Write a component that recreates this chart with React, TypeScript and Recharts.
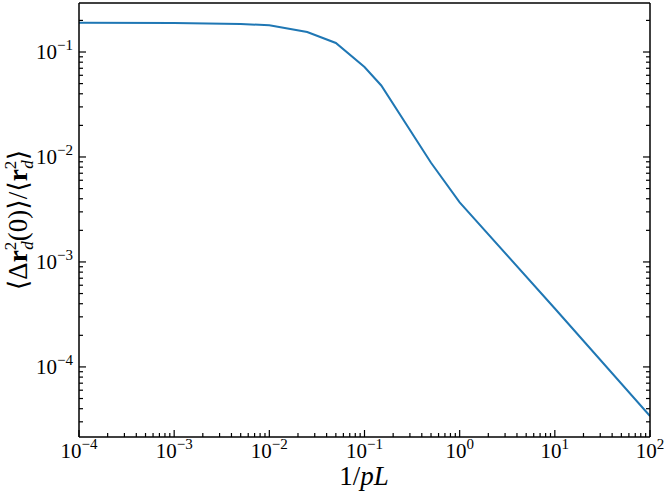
import { Line, LineChart, XAxis, YAxis } from "recharts";

// 1/pL values and the relative fluctuation
const invPL = [1e-4, 1e-3, 5e-3, 1e-2, 2.5e-2, 5e-2, 0.1, 0.15, 0.5, 1, 10, 100];
const fluct = [0.19, 0.189, 0.185, 0.18, 0.155, 0.122, 0.072, 0.048, 0.0088, 0.0037, 3.6e-4, 3.4e-5];

const xDomain = [1e-4, 1e2];
const yDomain = [2.15e-5, 0.293];

const xDecades = [-4, -3, -2, -1, 0, 1, 2];
const yDecades = [-5, -4, -3, -2, -1];
const minorSteps = [1, 2, 3, 4, 5, 6, 7, 8, 9];

const ticksIn = (decades: number[], dom: number[]) =>
  decades
    .flatMap((d) => minorSteps.map((k) => k * Math.pow(10, d)))
    .filter((v) => v >= dom[0] * 0.999 && v <= dom[1] * 1.001);

const xTicks = ticksIn(xDecades, xDomain);
const yTicks = ticksIn(yDecades, yDomain);

const data = invPL.map((x, i) => ({ x, y: fluct[i] }));

const FONT = "'Liberation Serif', 'DejaVu Serif', serif";
const AXIS = { stroke: "#000", strokeWidth: 1.5 };

const isMajor = (v: number) => {
  const l = Math.log10(v);
  return Math.abs(l - Math.round(l)) < 1e-6;
};
const expOf = (v: number) => {
  const e = Math.round(Math.log10(v));
  return e < 0 ? "\u2212" + Math.abs(e) : String(e);
};

const XTick = (props: any) => {
  const { x, y, payload, side } = props;
  const major = isMajor(payload.value);
  const len = major ? 7 : 4;
  const dir = side === "bottom" ? -1 : 1;
  return (
    <g>
      <line x1={x} y1={y} x2={x} y2={y + dir * len} stroke="#000" strokeWidth={1.2} />
      {side === "bottom" && major && (
        <text x={x} y={y + 21} textAnchor="middle" fontFamily={FONT} fontSize={21} fill="#000">
          10
          <tspan dy={-9} fontSize={15}>
            {expOf(payload.value)}
          </tspan>
        </text>
      )}
    </g>
  );
};

const YTick = (props: any) => {
  const { x, y, payload, side } = props;
  const major = isMajor(payload.value);
  const len = major ? 7 : 4;
  const dir = side === "left" ? 1 : -1;
  return (
    <g>
      <line x1={x} y1={y} x2={x + dir * len} y2={y} stroke="#000" strokeWidth={1.2} />
      {side === "left" && major && (
        <text x={x - 6} y={y + 7} textAnchor="end" fontFamily={FONT} fontSize={21} fill="#000">
          10
          <tspan dy={-9} fontSize={15}>
            {expOf(payload.value)}
          </tspan>
        </text>
      )}
    </g>
  );
};

export default function App() {
  return (
    <div style={{ position: "absolute", left: 0, top: 0, width: 664, height: 492, background: "#fff" }}>
      <LineChart width={664} height={492} data={data} margin={{ top: 2, right: 13, bottom: 54, left: 78 }}>
        <XAxis
          dataKey="x"
          type="number"
          scale="log"
          domain={xDomain}
          ticks={xTicks}
          allowDataOverflow
          height={1}
          tickSize={0}
          tickMargin={0}
          interval={0}
          axisLine={AXIS}
          tick={<XTick side="bottom" />}
        />
        <XAxis
          xAxisId="top"
          orientation="top"
          type="number"
          scale="log"
          domain={xDomain}
          ticks={xTicks}
          allowDataOverflow
          height={1}
          tickSize={0}
          tickMargin={0}
          interval={0}
          axisLine={AXIS}
          tick={<XTick side="top" />}
        />
        <YAxis
          type="number"
          scale="log"
          domain={yDomain}
          ticks={yTicks}
          allowDataOverflow
          width={1}
          tickSize={0}
          tickMargin={0}
          interval={0}
          axisLine={AXIS}
          tick={<YTick side="left" />}
        />
        <YAxis
          yAxisId="right"
          orientation="right"
          type="number"
          scale="log"
          domain={yDomain}
          ticks={yTicks}
          allowDataOverflow
          width={1}
          tickSize={0}
          tickMargin={0}
          interval={0}
          axisLine={AXIS}
          tick={<YTick side="right" />}
        />
        <Line
          dataKey="y"
          type="linear"
          stroke="#1f77b4"
          strokeWidth={2}
          dot={false}
          isAnimationActive={false}
        />
      </LineChart>
      <svg width={664} height={492} style={{ position: "absolute", left: 0, top: 0, pointerEvents: "none" }}>
        <text x={364} y={485} textAnchor="middle" fontFamily={FONT} fontSize={27} fill="#000">
          1/<tspan fontStyle="italic">pL</tspan>
        </text>
        <text
          transform="translate(27,220) rotate(-90)"
          textAnchor="middle"
          fontFamily={FONT}
          fontSize={27}
          fill="#000"
        >
          {"\u27e8\u0394"}
          <tspan fontWeight="bold">r</tspan>
          <tspan dy={-11} fontSize={17}>2</tspan>
          <tspan dx={-8} dy={17} fontSize={17} fontStyle="italic">d</tspan>
          <tspan dy={-6}>{"(0)\u27e9/\u27e8"}</tspan>
          <tspan fontWeight="bold">r</tspan>
          <tspan dy={-11} fontSize={17}>2</tspan>
          <tspan dx={-8} dy={17} fontSize={17} fontStyle="italic">d</tspan>
          <tspan dy={-6}>{"\u27e9"}</tspan>
        </text>
      </svg>
    </div>
  );
}
